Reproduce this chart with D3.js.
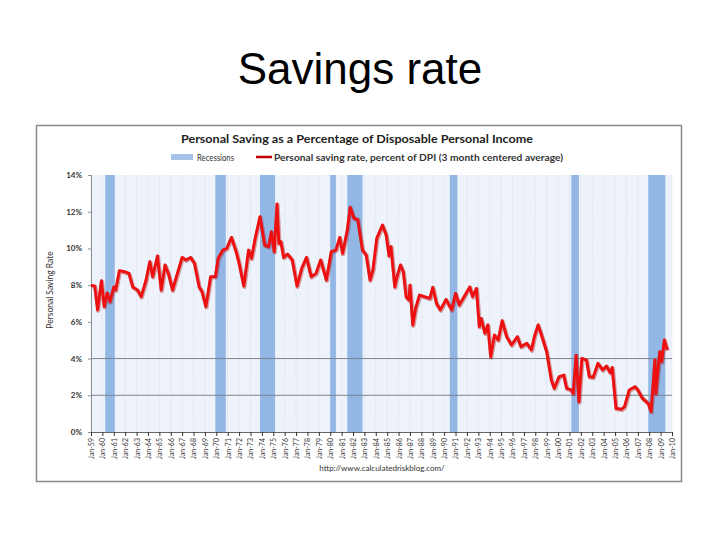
<!DOCTYPE html>
<html><head><meta charset="utf-8">
<script src="https://cdn.jsdelivr.net/npm/d3@7"></script>
<style>body{margin:0;background:#fff}</style>
</head><body><svg id="c" width="720" height="540"></svg>
<script>
const months = ["1959-01","1959-05","1959-08","1959-12","1960-03","1960-06","1960-09","1961-01","1961-03","1961-07","1961-12","1962-05","1962-09","1963-02","1963-06","1963-11","1964-03","1964-06","1964-11","1965-03","1965-07","1965-11","1966-03","1966-06","1967-01","1967-05","1967-10","1968-02","1968-07","1968-10","1969-02","1969-07","1969-12","1970-03","1970-08","1970-12","1971-05","1971-10","1972-01","1972-06","1972-11","1973-02","1973-06","1973-11","1974-04","1974-08","1974-11","1975-02","1975-05","1975-07","1975-09","1975-12","1976-04","1976-09","1977-02","1977-07","1977-12","1978-05","1978-10","1979-03","1979-09","1980-02","1980-07","1980-11","1981-02","1981-07","1981-10","1982-02","1982-06","1982-11","1983-03","1983-07","1983-10","1984-02","1984-08","1984-12","1985-03","1985-05","1985-09","1985-11","1986-03","1986-06","1986-09","1986-12","1987-01","1987-04","1987-07","1987-11","1988-04","1988-10","1989-01","1989-05","1989-09","1990-03","1990-09","1991-01","1991-05","1991-10","1992-04","1992-07","1992-11","1993-02","1993-04","1993-08","1993-11","1994-02","1994-06","1994-10","1995-02","1995-07","1995-12","1996-06","1996-10","1997-04","1997-09","1997-12","1998-04","1998-07","1999-01","1999-06","1999-09","2000-02","2000-07","2000-10","2001-03","2001-05","2001-08","2001-11","2002-02","2002-07","2002-10","2003-02","2003-07","2003-12","2004-04","2004-08","2004-10","2005-02","2005-08","2005-11","2006-04","2006-10","2007-01","2007-06","2007-12","2008-03","2008-07","2008-08","2008-12","2009-02","2009-05","2009-08"];
const savingRate = [8.0,7.95,6.65,8.24,6.83,7.57,7.1,7.9,7.73,8.79,8.73,8.64,7.9,7.73,7.37,8.28,9.28,8.46,9.59,7.73,9.1,8.55,7.73,8.28,9.51,9.37,9.51,9.19,7.9,7.64,6.83,8.46,8.46,9.46,9.91,10.0,10.6,9.82,9.2,7.95,9.91,9.46,10.55,11.73,10.18,10.09,10.91,9.82,12.42,10.27,10.37,9.51,9.69,9.37,7.95,8.91,9.51,8.46,8.64,9.37,8.28,9.82,9.91,10.6,9.73,11.0,12.24,11.64,11.58,9.91,9.64,8.28,8.82,10.55,11.27,10.73,9.6,10.1,7.9,8.4,9.1,8.73,7.37,7.19,8.0,5.83,6.74,7.46,7.37,7.28,7.88,7.0,6.65,7.22,6.65,7.55,6.92,7.37,7.9,7.37,7.82,5.74,6.19,5.38,5.83,4.1,5.28,5.01,6.06,5.19,4.74,5.19,4.65,4.83,4.47,5.19,5.83,5.38,4.37,2.83,2.38,3.01,3.1,2.38,2.29,2.1,4.19,1.65,4.01,3.92,3.01,2.98,3.74,3.38,3.59,3.23,3.52,1.29,1.24,1.38,2.29,2.47,2.29,1.83,1.56,1.11,3.92,2.1,4.37,3.83,5.01,4.47];
const recessionStart = ["1960-04","1969-12","1973-11","1980-01","1981-07","1990-07","2001-03","2007-12"];
const recessionEnd   = ["1961-02","1970-11","1975-03","1980-07","1982-11","1991-03","2001-11","2009-06"];
const yTicks = [0,2,4,6,8,10,12,14];
const yGrid = [2,4];
const tickYears = d3.range(1959, 2011);
const chartTitle = "Personal Saving as a Percentage of Disposable Personal Income";
const legendRec = "Recessions";
const legendLine = "Personal saving rate, percent of DPI (3 month centered average)";

const parse = d3.timeParse("%Y-%m");
const svg = d3.select("#c");
svg.append("rect").attr("width",720).attr("height",540).attr("fill","#fff");

svg.append("text").attr("x",360).attr("y",84).attr("text-anchor","middle")
  .attr("font-family","Liberation Sans, Arial, sans-serif").attr("font-size",44).attr("fill","#000").text("Savings rate");

svg.append("rect").attr("x",36.5).attr("y",125.5).attr("width",645).attr("height",356)
  .attr("fill","#fff").attr("stroke","#8a8a8a").attr("stroke-width",1.5);

const L=91,R=672,T=175,B=432;
const x = d3.scaleTime().domain([parse("1959-01"), parse("2010-01")]).range([L,R]);
const y = d3.scaleLinear().domain([0,14]).range([B,T]);
const font = "Lato, 'Open Sans', sans-serif";

svg.append("text").attr("x",357).attr("y",143).attr("text-anchor","middle")
  .attr("font-family",font).attr("font-weight","bold").attr("font-size",12).attr("fill","#222")
  .attr("textLength",352).attr("lengthAdjust","spacingAndGlyphs").text(chartTitle);

// legend
svg.append("rect").attr("x",171).attr("y",154).attr("width",22).attr("height",6).attr("fill","#a7c3e8");
svg.append("text").attr("x",197).attr("y",160.5).attr("font-family",font).attr("font-size",8.5).attr("fill","#333")
  .attr("textLength",37).attr("lengthAdjust","spacingAndGlyphs").text(legendRec);
svg.append("line").attr("x1",256).attr("x2",272).attr("y1",157).attr("y2",157).attr("stroke","#c00000").attr("stroke-width",2.5);
svg.append("text").attr("x",274).attr("y",160.5).attr("font-family",font).attr("font-size",8.5).attr("font-weight","bold").attr("fill","#333")
  .attr("textLength",289).attr("lengthAdjust","spacingAndGlyphs").text(legendLine);

// plot background
svg.append("rect").attr("x",L).attr("y",T).attr("width",R-L).attr("height",B-T).attr("fill","#eef3fb");

// vertical grid
svg.append("g").selectAll("line").data(tickYears).join("line")
  .attr("x1",d=>x(new Date(d,0,1))).attr("x2",d=>x(new Date(d,0,1)))
  .attr("y1",T).attr("y2",B).attr("stroke","#b3bccb").attr("stroke-width",0.7).attr("stroke-dasharray","1,1.5").attr("opacity",0.6);

// recessions
svg.append("g").selectAll("rect").data(recessionStart).join("rect")
  .attr("x",(d)=>x(parse(d)))
  .attr("width",(d,i)=>x(parse(recessionEnd[i]))-x(parse(d)))
  .attr("y",T).attr("height",B-T).attr("fill","#93b7e5");

// horizontal grid
svg.append("g").selectAll("line").data(yGrid).join("line")
  .attr("x1",L).attr("x2",R).attr("y1",d=>y(d)).attr("y2",d=>y(d))
  .attr("stroke","#7d848e").attr("stroke-width",1);

// axes
const yAxis = svg.append("g").attr("transform",`translate(${L},0)`)
  .call(d3.axisLeft(y).tickValues(yTicks).tickFormat(d=>d+"%").tickSize(3));
yAxis.select(".domain").attr("stroke","#8a8f98");
yAxis.selectAll(".tick line").attr("stroke","#8a8f98");
yAxis.selectAll("text").attr("font-family",font).attr("font-size",8).attr("font-weight","bold").attr("fill","#333").attr("x",-9);

const xAxis = svg.append("g").attr("transform",`translate(0,${B})`)
  .call(d3.axisBottom(x).tickValues(tickYears.map(v=>new Date(v,0,1))).tickFormat(d3.timeFormat("Jan-%y")).tickSize(4));
xAxis.select(".domain").attr("stroke","#666");
xAxis.selectAll(".tick line").attr("stroke","#333");
xAxis.selectAll("text").attr("font-family",font).attr("font-size",7).attr("fill","#333")
  .attr("text-anchor","end").attr("transform","rotate(-90)").attr("x",-6).attr("y",0).attr("dy","0.35em");

svg.append("text").attr("transform","translate(53,290) rotate(-90)").attr("text-anchor","middle")
  .attr("font-family",font).attr("font-size",8.5).attr("fill","#333").text("Personal Saving Rate");

// line
const data = months.map((m,i)=>({d:parse(m),v:savingRate[i]}));
const line = d3.line().x(d=>x(d.d)).y(d=>y(d.v)).curve(d3.curveLinear);
svg.append("path").datum(data).attr("d",line).attr("fill","none").attr("stroke","#a00000").attr("stroke-opacity",0.35)
  .attr("stroke-width",4.2).attr("stroke-linejoin","round").attr("transform","translate(0.6,0.8)");
svg.append("path").datum(data).attr("d",line).attr("fill","none").attr("stroke","#ec1010")
  .attr("stroke-width",2.9).attr("stroke-linejoin","round");

svg.append("text").attr("x",382).attr("y",471).attr("text-anchor","middle")
  .attr("font-family",font).attr("font-size",8).attr("fill","#333").text("http://www.calculatedriskblog.com/");
</script></body></html>
